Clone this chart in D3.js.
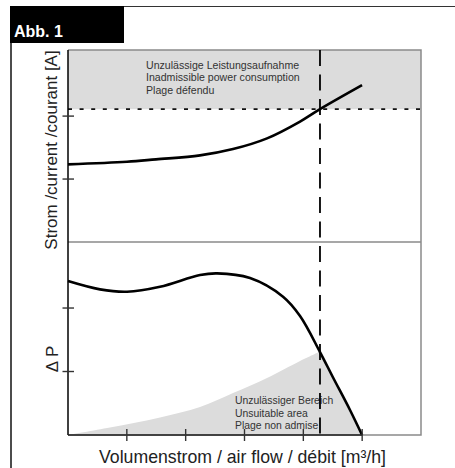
<!DOCTYPE html>
<html><head><meta charset="utf-8">
<script src="https://cdn.jsdelivr.net/npm/d3@7"></script>
<style>body{margin:0;background:#fff}svg{display:block}</style>
</head><body>
<svg id="c" width="455" height="468"></svg>
<script>
// ---- data ----
const xTicks = [1, 2, 3, 4, 5];
const currentTicks = [1, 2];
const pressureTicks = [1, 2];
const currentX = [0, 1.003, 1.496, 2.244, 2.805, 3.383, 3.944, 4.283, 4.998];
const currentY = [1.233, 1.274, 1.313, 1.376, 1.476, 1.646, 1.913, 2.111, 2.492];
const pressureX = [0, 0.544, 1.003, 1.564, 2.244, 2.533, 3.094, 3.655, 3.944, 4.283, 4.505, 4.793, 4.998];
const pressureY = [2.425, 2.294, 2.257, 2.335, 2.52, 2.546, 2.472, 2.178, 1.874, 1.307, 0.906, 0.394, 0.0];
const limitX = [0, 0.714, 1.564, 2.244, 2.805, 3.383, 3.944, 4.283];
const limitY = [0, 0.118, 0.276, 0.441, 0.661, 0.898, 1.165, 1.315];
const maxCurrent = 2.11;     // dotted limit line
const maxFlow = 4.283;       // dashed vertical line
const topText = ["Unzulässige Leistungsaufnahme", "Inadmissible power consumption", "Plage défendu"];
const bottomText = ["Unzulässiger Bereich", "Unsuitable area", "Plage non admise"];
const yLabelTop = "Strom /current /courant [A]";
const yLabelBottom = "Δ P";
const xLabel = "Volumenstrom / air flow / débit [m³/h]";
const figLabel = "Abb. 1";

// ---- layout ----
const svg = d3.select("#c");
const L = 68, R = 421, T = 50, MID = 242, B = 435;
const x = d3.scaleLinear().domain([0, 6]).range([L, R]);
const yTop = d3.scaleLinear().domain([0, 3.05]).range([MID, T]);
const yBot = d3.scaleLinear().domain([0, 3.04]).range([B, MID]);
const font = "'Liberation Sans', Arial, Helvetica, sans-serif";

// figure frame
svg.append("line").attr("x1", 124).attr("x2", 455).attr("y1", 6.5).attr("y2", 6.5)
  .attr("stroke", "#333").attr("stroke-width", 1.2);
svg.append("rect").attr("x", 10).attr("y", 6).attr("width", 114).attr("height", 37).attr("fill", "#000");
svg.append("text").attr("x", 14).attr("y", 37).attr("fill", "#fff").attr("font-weight", 600)
  .attr("font-family", font).attr("font-size", 16).text(figLabel);
svg.append("line").attr("x1", 11).attr("x2", 11).attr("y1", 43).attr("y2", 468)
  .attr("stroke", "#111").attr("stroke-width", 1.5);

// top grey zone
svg.append("rect").attr("x", L).attr("y", T).attr("width", R - L).attr("height", yTop(maxCurrent) - T)
  .attr("fill", "#dcdcdc");

// bottom grey zone
const defs = svg.append("defs");
defs.append("clipPath").attr("id", "cl").append("rect")
  .attr("x", L).attr("y", MID).attr("width", x(maxFlow) - L).attr("height", B - MID);
defs.append("clipPath").attr("id", "cr").append("rect")
  .attr("x", x(maxFlow)).attr("y", MID).attr("width", R - x(maxFlow)).attr("height", B - MID);
const limitPts = limitX.map((v, i) => [v, limitY[i]]);
const presPts = pressureX.map((v, i) => [v, pressureY[i]]);
const curPts = currentX.map((v, i) => [v, currentY[i]]);
const crv = d3.curveCatmullRom.alpha(0.5);
const areaB = d3.area().x(d => x(d[0])).y0(yBot(0)).y1(d => yBot(d[1])).curve(crv);
svg.append("path").attr("d", areaB(limitPts)).attr("fill", "#dcdcdc").attr("clip-path", "url(#cl)");
svg.append("path").attr("d", areaB(presPts)).attr("fill", "#dcdcdc").attr("clip-path", "url(#cr)");

// frame lines
const grey = "#8a8a8a";
svg.append("path").attr("d", `M${L},${T}H${R}V${B}H${L}`).attr("fill", "none").attr("stroke", grey).attr("stroke-width", 1.5);
svg.append("line").attr("x1", L).attr("x2", R).attr("y1", MID).attr("y2", MID).attr("stroke", grey).attr("stroke-width", 1.5);

// texts
topText.forEach((t, i) => svg.append("text").attr("x", 146).attr("y", 68.5 + i * 12.6)
  .attr("font-family", font).attr("font-size", 10.6).attr("fill", "#333").text(t));
bottomText.forEach((t, i) => svg.append("text").attr("x", 235).attr("y", 404 + i * 12.5)
  .attr("font-family", font).attr("font-size", 10.4).attr("fill", "#333").text(t));

// dotted limit line
svg.append("line").attr("x1", L).attr("x2", R).attr("y1", yTop(maxCurrent)).attr("y2", yTop(maxCurrent))
  .attr("stroke", "#111").attr("stroke-width", 1.8).attr("stroke-dasharray", "4,7.6");

// curves
const lineT = d3.line().x(d => x(d[0])).y(d => yTop(d[1])).curve(crv);
const lineB = d3.line().x(d => x(d[0])).y(d => yBot(d[1])).curve(crv);
svg.append("path").attr("d", lineT(curPts)).attr("fill", "none").attr("stroke", "#000").attr("stroke-width", 2.6);
svg.append("path").attr("d", lineB(presPts)).attr("fill", "none").attr("stroke", "#000").attr("stroke-width", 2.6);

// dashed vertical
svg.append("line").attr("x1", x(maxFlow)).attr("x2", x(maxFlow)).attr("y1", T).attr("y2", B)
  .attr("stroke", "#000").attr("stroke-width", 1.8).attr("stroke-dasharray", "16,8.5");

// axes
const axL = svg.append("g").attr("transform", `translate(${L},0)`);
axL.append("line").attr("y1", T).attr("y2", B).attr("stroke", "#000").attr("stroke-width", 1.5);
const ticksL = currentTicks.map(yTop).concat(pressureTicks.map(yBot));
ticksL.forEach(p => axL.append("line").attr("x1", -5.5).attr("x2", 6).attr("y1", p).attr("y2", p)
  .attr("stroke", "#333").attr("stroke-width", 1.4));
svg.append("line").attr("x1", L).attr("x2", x(5)).attr("y1", B).attr("y2", B).attr("stroke", "#222").attr("stroke-width", 1.5);
xTicks.forEach(v => svg.append("line").attr("x1", x(v)).attr("x2", x(v)).attr("y1", B - 6).attr("y2", B + 6)
  .attr("stroke", "#333").attr("stroke-width", 1.4));

// labels
svg.append("text").attr("transform", `translate(57,${(T + MID) / 2 + 4}) rotate(-90)`)
  .attr("text-anchor", "middle").attr("font-family", font).attr("font-size", 17).attr("fill", "#222").text(yLabelTop);
svg.append("text").attr("transform", `translate(58,359) rotate(-90)`)
  .attr("text-anchor", "middle").attr("font-family", font).attr("font-size", 17).attr("fill", "#222").text(yLabelBottom);
svg.append("text").attr("x", (L + R) / 2 - 2).attr("y", 463)
  .attr("text-anchor", "middle").attr("font-family", font).attr("font-size", 17.7).attr("fill", "#222").text(xLabel);
</script>
</body></html>
